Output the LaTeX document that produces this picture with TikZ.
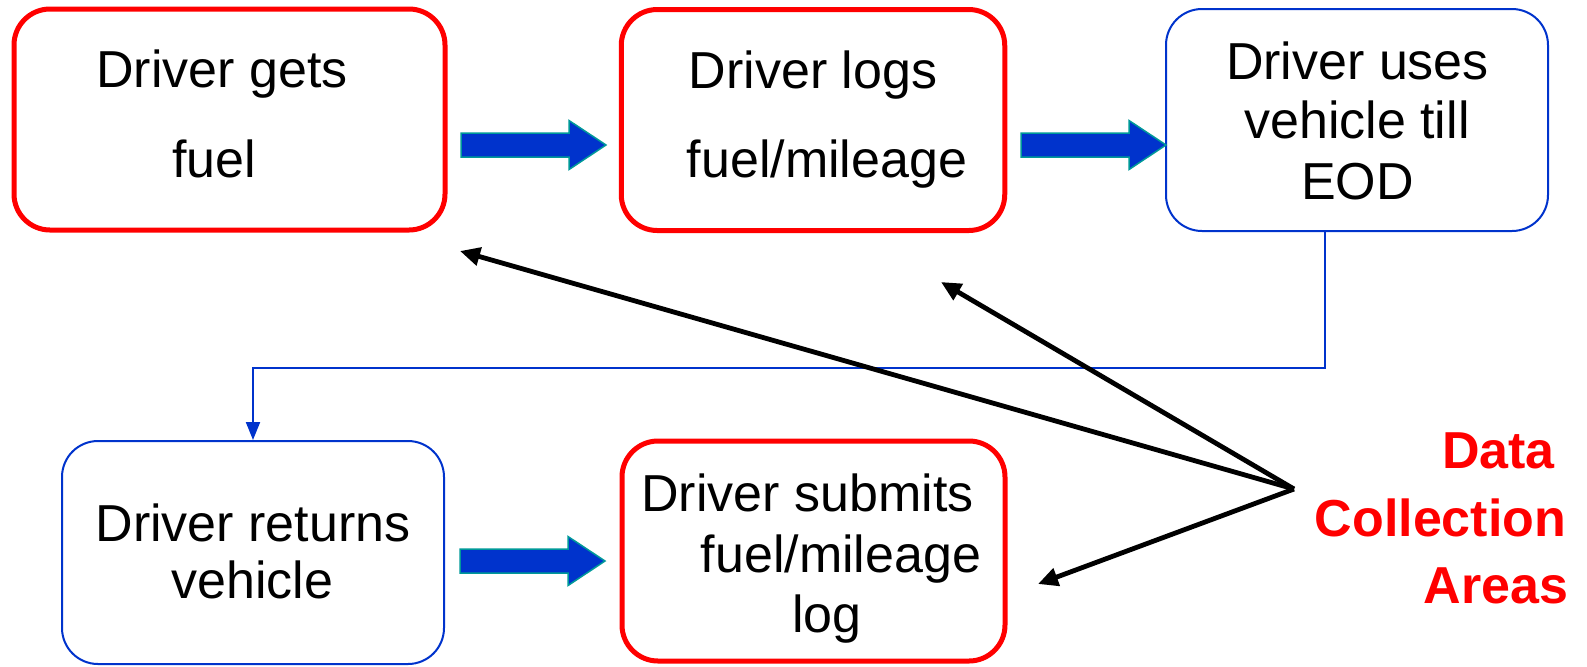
\documentclass[tikz,border=0pt]{standalone}
\usepackage{fontspec}
\setmainfont{Liberation Sans}
\usetikzlibrary{arrows.meta}
\definecolor{boxred}{RGB}{255,0,0}
\definecolor{boxblue}{RGB}{0,51,204}
\definecolor{flowfill}{RGB}{0,51,204}
\definecolor{flowedge}{RGB}{0,153,153}
\tikzset{
  stepred/.style={draw=boxred, line width=2.5pt, rounded corners=18pt, rectangle, inner sep=0pt},
  stepblue/.style={draw=boxblue, line width=1pt, rounded corners=18pt, rectangle, inner sep=0pt},
  line/.style={anchor=base, inner sep=0pt, font=\fontsize{26pt}{30pt}\selectfont},
  callout/.style={anchor=base, inner sep=0pt, text=boxred, font=\fontsize{26pt}{30pt}\selectfont\bfseries},
  pointer/.style={draw=black, line width=2.4pt, -{Triangle[length=10pt,width=9pt]}},
  flow/.style={draw=boxblue, line width=1pt, -{Triangle[length=9pt,width=7pt]}},
  blockarrow/.pic={
    \filldraw[fill=flowfill, draw=flowedge, line width=0.75pt]
      (0,-12) -- (108,-12) -- (108,-24.5) -- (145,0) -- (108,24.5) -- (108,12) -- (0,12) -- cycle;
  }
}
\begin{document}
\begin{tikzpicture}[x=0.5pt, y=-0.5pt]
\useasboundingbox (0,0) rectangle (1587,666);

% process steps
\node[stepred,  minimum width=215.5pt, minimum height=110.5pt] (gets)    at (229.5,119.5) {};
\node[stepred,  minimum width=191.75pt, minimum height=110.5pt] (logs)   at (813,120) {};
\node[stepblue, minimum width=191pt,   minimum height=111pt]   (uses)    at (1357,120) {};
\node[stepblue, minimum width=191pt,   minimum height=111.5pt] (returns) at (253,552.5) {};
\node[stepred,  minimum width=191.5pt, minimum height=110pt]   (submits) at (813.5,551) {};

% step texts
\node[line] (g1) at (222,87)  {Driver gets};
\node[line] (g2) at (214,177) {fuel};
\node[line] (l1) at (813,88)  {Driver logs};
\node[line] (l2) at (827,177) {fuel/mileage};
\node[line] (u1) at (1357.5,79)  {Driver uses};
\node[line] (u2) at (1357,138)   {vehicle till};
\node[line] (u3) at (1357.5,199) {EOD};
\node[line] (r1) at (253,541)   {Driver returns};
\node[line] (r2) at (252.5,598) {vehicle};
\node[line] (s1) at (807.5,511) {Driver submits};
\node[line] (s2) at (841,572)   {fuel/mileage};
\node[line] (s3) at (827,632)   {log};

% sequence arrows
\pic (a1) at (461,145)  {blockarrow};
\pic (a2) at (1021,145) {blockarrow};
\pic (a3) at (460,561)  {blockarrow};

% end of day: back to the yard
\coordinate (turn) at (700,368);
\draw[flow] ([xshift=-16pt]uses.south) |- (turn) -| (returns.north);

% data collection callout
\node[callout] (d1) at (1498.5,468) {Data};
\node[callout] (d2) at (1440.5,536) {Collection};
\node[callout] (d3) at (1496,603)   {Areas};

\coordinate (hub) at (1294,489);
\coordinate (tgets) at (460,251);
\coordinate (tlogs) at (941,282);
\coordinate (tsub)  at (1038,584);
\draw[pointer] (hub) -- (tgets);
\draw[pointer] (hub) -- (tlogs);
\draw[pointer] (hub) -- (tsub);
\end{tikzpicture}
\end{document}
